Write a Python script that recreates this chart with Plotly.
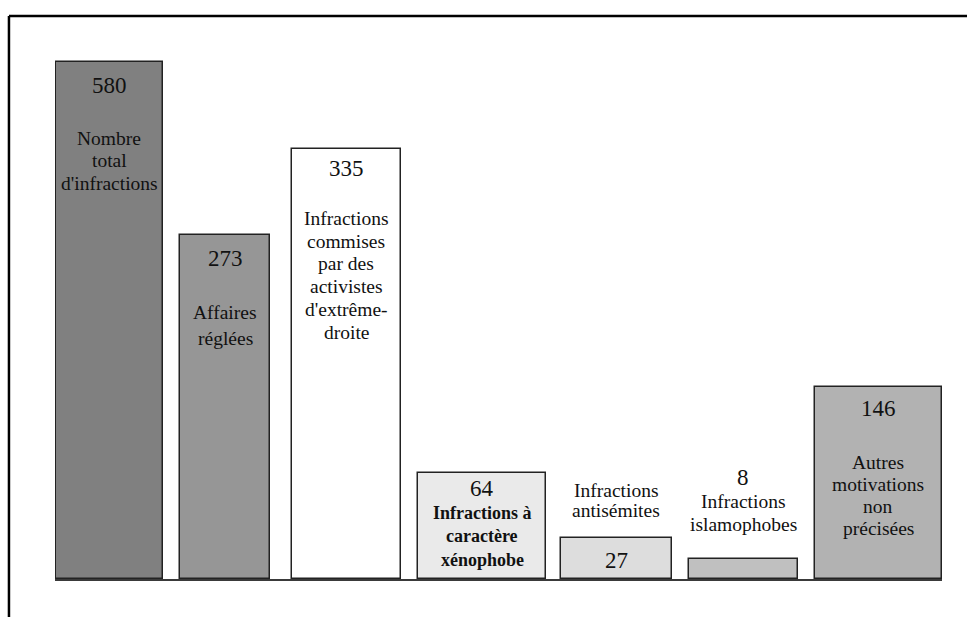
import plotly.graph_objects as go

# ---- data ----
values = [580, 273, 335, 64, 27, 8, 146]            # figures printed on the bars
bar_heights = [580, 386, 482, 119, 46, 22, 215]     # heights as drawn in the source (not to scale)
labels = [
    ["Nombre", "total", "d'infractions"],
    ["Affaires", "réglées"],
    ["Infractions", "commises", "par des", "activistes", "d'extrême-", "droite"],
    ["Infractions à", "caractère", "xénophobe"],
    ["Infractions", "antisémites"],
    ["Infractions", "islamophobes"],
    ["Autres", "motivations", "non", "précisées"],
]

# ---- layout / style ----
bar_centers = [6.14, 19.17, 32.86, 48.14, 63.30, 77.62, 92.84]
bar_widths = [12.06, 10.15, 12.29, 14.43, 12.51, 12.29, 14.32]
colors = ["#808080", "#969696", "#ffffff", "#eaeaea", "#dddddd", "#c0c0c0", "#b2b2b2"]
num_offsets = [23, 24, 19, 16, 22, -82, 21]          # px below bar top (negative = above)
label_first = [76, 78, 69, 40, -48, -58, 75]
label_step = [22.5, 26, 22.8, 23.5, 20, 23, 22]
label_bold = [False, False, False, True, False, False, False]

FONT = '"Liberation Serif", "Times New Roman", serif'

fig = go.Figure()
fig.add_trace(go.Bar(
    x=bar_centers, y=bar_heights, width=bar_widths,
    marker=dict(color=colors, line=dict(color="#222222", width=1.5)),
    hoverinfo="skip", showlegend=False,
))

annotations = []
for i, v in enumerate(values):
    annotations.append(dict(
        x=bar_centers[i], y=bar_heights[i], xref="x", yref="y",
        text=str(v), showarrow=False, yanchor="middle", xanchor="center",
        yshift=-num_offsets[i], font=dict(family=FONT, size=23, color="#111111"),
    ))
    for j, line in enumerate(labels[i]):
        txt = f"<b>{line}</b>" if label_bold[i] else line
        annotations.append(dict(
            x=bar_centers[i], y=bar_heights[i], xref="x", yref="y",
            text=txt, showarrow=False, yanchor="middle", xanchor="center",
            yshift=-(label_first[i] + j * label_step[i]),
            font=dict(family=FONT, size=19.5 if not label_bold[i] else 18, color="#111111"),
        ))

# frame lines (top and left)
shapes = [
    dict(type="line", xref="paper", yref="paper", x0=-0.0519, x1=1.03, y0=1.0523, y1=1.0523,
         line=dict(color="#000000", width=2.5)),
    dict(type="line", xref="paper", yref="paper", x0=-0.0519, x1=-0.0519, y0=-0.08, y1=1.0523,
         line=dict(color="#000000", width=2.5)),
]

fig.update_layout(
    width=967, height=617,
    margin=dict(l=55, r=25, t=44, b=38, pad=0),
    paper_bgcolor="white", plot_bgcolor="white",
    bargap=0,
    font=dict(family=FONT),
    xaxis=dict(range=[0, 100], showgrid=False, zeroline=False, showticklabels=False,
               ticks="", showline=True, linecolor="#3a3a3a", linewidth=2, fixedrange=True),
    yaxis=dict(range=[0, 600.2], showgrid=False, zeroline=False, showticklabels=False,
               ticks="", showline=False, fixedrange=True),
    annotations=annotations,
    shapes=shapes,
)

fig.write_html(
    "out.html",
    config={"displayModeBar": False},
    post_script="document.body.style.margin='0';document.body.style.overflow='hidden';",
)
